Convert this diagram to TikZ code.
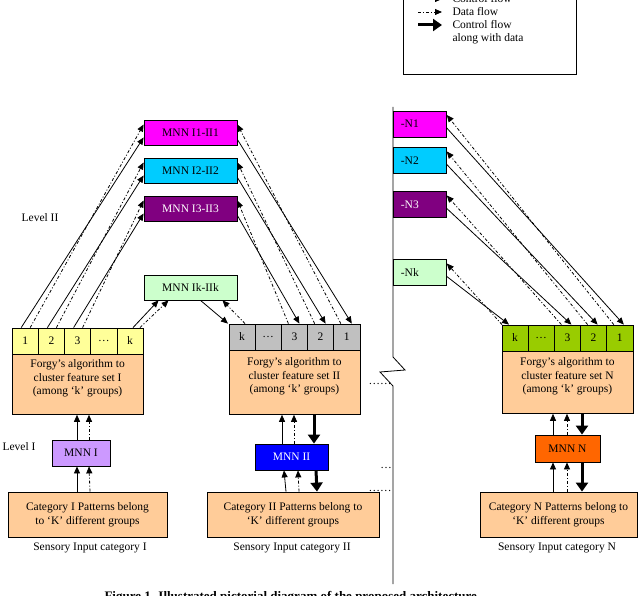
\documentclass[tikz,border=0pt]{standalone}
\usepackage{fontspec}
\setmainfont{Liberation Serif}
\usetikzlibrary{arrows.meta}
\definecolor{cyel}{HTML}{FFFF99}
\definecolor{corg}{HTML}{FFCC99}
\definecolor{cmag}{HTML}{FF00FF}
\definecolor{ccyan}{HTML}{00CCFF}
\definecolor{cpur}{HTML}{800080}
\definecolor{clgr}{HTML}{CCFFCC}
\definecolor{cgray}{HTML}{C0C0C0}
\definecolor{cblue}{HTML}{0000FF}
\definecolor{corn}{HTML}{FF6600}
\definecolor{cgrn}{HTML}{99CC00}
\definecolor{clav}{HTML}{CC99FF}
\begin{document}
\begin{tikzpicture}[x=1pt,y=-1pt,font=\fontsize{11.5}{13.5}\selectfont,
 box/.style={draw,thick,inner sep=0pt,align=center},
 cell/.style={box,minimum width=26.2pt,minimum height=26pt},
 nbox/.style={box,minimum width=53pt,minimum height=26pt,anchor=west,text width=38pt,align=left},
 ctl/.style={-{Triangle[length=7pt,width=6pt]},thick},
 dat/.style={-{Triangle[length=7pt,width=6pt]},thick,dash pattern=on 3pt off 2pt on 1pt off 2pt},
 big/.style={-{Triangle[length=9pt,width=12pt]},line width=3pt}]
\useasboundingbox (0,0) rectangle (640,596);
% legend
\node[draw,thick,minimum width=173pt,minimum height=80pt,anchor=south west] (leg) at (403,75) {};
\coordinate (la1) at (418,-1); \coordinate (lb1) at (442,-1);
\coordinate (la2) at (418,12); \coordinate (lb2) at (442,12);
\coordinate (la3) at (418,25); \coordinate (lb3) at (442,25);
\draw[ctl] (la1) -- (lb1);
\draw[dat] (la2) -- (lb2);
\draw[big] (la3) -- (lb3);
\node[anchor=west] (t1) at (449,-1) {Control flow};
\node[anchor=west] (t2) at (449,12) {Data flow};
\node[anchor=west,align=left] (t3) at (449,32) {Control flow\\along with data};
% level II MNNs
\node[box,fill=cmag,minimum width=93pt,minimum height=25pt] (I1) at (190.5,132.5) {MNN I1-II1};
\node[box,fill=ccyan,minimum width=93pt,minimum height=25pt] (I2) at (190.5,170.5) {MNN I2-II2};
\node[box,fill=cpur,text=white,minimum width=93pt,minimum height=25pt] (I3) at (190.5,208.5) {MNN I3-II3};
\node[box,fill=clgr,minimum width=93pt,minimum height=25pt] (Ik) at (190.5,287.5) {MNN Ik-IIk};
\node (lv2) at (40,218) {Level II};
\node (lv1) at (19,447) {Level I};
% left column
\node[cell,fill=cyel] (L1) at (25.2,341) {1};
\node[cell,fill=cyel] (L2) at (51.4,341) {2};
\node[cell,fill=cyel] (L3) at (77.6,341) {3};
\node[cell,fill=cyel] (L4) at (103.8,341) {\dots};
\node[cell,fill=cyel] (Lk) at (130,341) {k};
\node[box,fill=corg,minimum width=131pt,minimum height=60pt,anchor=north] (F1) at (77.6,354) {};
\node[anchor=north,align=center] (F1t) at (77.6,356) {Forgy’s algorithm to\\cluster feature set I\\(among ‘k’ groups)};
\node[box,fill=clav,minimum width=58pt,minimum height=26pt] (M1) at (81,453) {MNN I};
\node[box,fill=corg,minimum width=159pt,minimum height=45pt] (C1) at (87.5,514.5) {Category I Patterns belong\\to ‘K’ different groups};
\node (S1) at (90,548) {Sensory Input category I};
% middle column
\node[cell,fill=cgray] (Rk) at (242,337) {k};
\node[cell,fill=cgray] (R4) at (268.2,337) {\dots};
\node[cell,fill=cgray] (R3) at (294.4,337) {3};
\node[cell,fill=cgray] (R2) at (320.6,337) {2};
\node[cell,fill=cgray] (R1) at (346.8,337) {1};
\node[box,fill=corg,minimum width=131pt,minimum height=64pt,anchor=north] (F2) at (294.4,350) {};
\node[anchor=north,align=center] (F2t) at (294.4,354) {Forgy’s algorithm to\\cluster feature set II\\(among ‘k’ groups)};
\node[box,fill=cblue,text=white,minimum width=73pt,minimum height=26pt] (M2) at (291.5,457) {MNN II};
\node[box,fill=corg,minimum width=172pt,minimum height=45pt] (C2) at (293,514.5) {Category II Patterns belong to\\‘K’ different groups};
\node (S2) at (292,548) {Sensory Input category II};
% right column
\draw[thick] (393,107) -- (393,357) -- (405,370) -- (380,372) -- (393,386) -- (393,584);
\node[nbox,fill=cmag] (N1) at (393,124) {-N1};
\node[nbox,fill=ccyan] (N2) at (393,160.5) {-N2};
\node[nbox,fill=cpur,text=white] (N3) at (393,204.5) {-N3};
\node[nbox,fill=clgr] (Nk) at (393,272.5) {-Nk};
\node[cell,fill=cgrn] (Qk) at (515,338) {k};
\node[cell,fill=cgrn] (Q4) at (541.2,338) {\dots};
\node[cell,fill=cgrn] (Q3) at (567.4,338) {3};
\node[cell,fill=cgrn] (Q2) at (593.6,338) {2};
\node[cell,fill=cgrn] (Q1) at (619.8,338) {1};
\node[box,fill=corg,minimum width=131pt,minimum height=62pt,anchor=north] (F3) at (567.4,351) {};
\node[anchor=north,align=center] (F3t) at (567.4,354) {Forgy’s algorithm to\\cluster feature set N\\(among ‘k’ groups)};
\node[box,fill=corn,minimum width=65pt,minimum height=27pt] (M3) at (567.5,448.5) {MNN N};
\node[box,fill=corg,minimum width=157pt,minimum height=45pt] (C3) at (558.5,514.5) {Category N Patterns belong to\\‘K’ different groups};
\node (S3) at (557,548) {Sensory Input category N};
% leaders
\node (d1) at (380,384) {\dots\dots};
\node (d2) at (386,468) {\dots};
\node (d3) at (380,491) {\dots\dots};
% caption
\node[font=\bfseries\fontsize{13}{14}\selectfont,anchor=west] (cap) at (101,597) {Figure 1. Illustrated pictorial diagram of the proposed architecture};
% left cells -> level II
\draw[ctl] ([xshift=-4pt]L1.north) -- ([yshift=-5pt]I1.west);
\draw[dat] ([xshift=5pt]L1.north) -- ([yshift=8pt]I1.west);
\draw[ctl] ([xshift=-4pt]L2.north) -- ([yshift=-5pt]I2.west);
\draw[dat] ([xshift=5pt]L2.north) -- ([yshift=8pt]I2.west);
\draw[ctl] ([xshift=-4pt]L3.north) -- ([yshift=-5pt]I3.west);
\draw[dat] ([xshift=5pt]L3.north) -- ([yshift=8pt]I3.west);
\draw[ctl] ([xshift=3pt]Lk.north) -- ([xshift=-32pt]Ik.south);
\draw[dat] ([xshift=10pt]Lk.north) -- ([xshift=-22pt]Ik.south);
% level II -> right cells
\draw[ctl] ([yshift=-7pt]I1.east) -- ([xshift=5pt]R1.north);
\draw[dat] ([xshift=-6pt]R1.north) -- ([yshift=8pt]I1.east);
\draw[ctl] ([yshift=-7pt]I2.east) -- ([xshift=5pt]R2.north);
\draw[dat] ([xshift=-6pt]R2.north) -- ([yshift=8pt]I2.east);
\draw[ctl] ([yshift=-7pt]I3.east) -- ([xshift=5pt]R3.north);
\draw[dat] ([xshift=-6pt]R3.north) -- ([yshift=8pt]I3.east);
\draw[ctl] ([xshift=10pt]Ik.south) -- ([xshift=-14pt]Rk.north);
\draw[dat] ([xshift=3pt]Rk.north) -- ([xshift=32pt]Ik.south);
% N boxes -> N cells
\draw[ctl] ([yshift=-4pt]N1.east) -- ([xshift=4pt]Q1.north);
\draw[dat] ([xshift=-6pt]Q1.north) -- ([yshift=9pt]N1.east);
\draw[ctl] ([yshift=-4pt]N2.east) -- ([xshift=4pt]Q2.north);
\draw[dat] ([xshift=-6pt]Q2.north) -- ([yshift=9pt]N2.east);
\draw[ctl] ([yshift=-4pt]N3.east) -- ([xshift=4pt]Q3.north);
\draw[dat] ([xshift=-6pt]Q3.north) -- ([yshift=9pt]N3.east);
\draw[ctl] ([yshift=-4pt]Nk.east) -- ([xshift=-6pt]Qk.north);
\draw[dat] ([xshift=-13pt]Qk.north) -- ([yshift=9pt]Nk.east);
% level I
\draw[ctl] ([xshift=-4pt]M1.north) -- ([xshift=-0.6pt]F1.south);
\draw[dat] ([xshift=8pt]M1.north) -- ([xshift=11.4pt]F1.south);
\draw[ctl] ([xshift=-10.5pt]C1.north) -- ([xshift=-4pt]M1.south);
\draw[dat] ([xshift=2.5pt]C1.north) -- ([xshift=8pt]M1.south);
\draw[ctl] ([xshift=-9.5pt]M2.north) -- ([xshift=-12.4pt]F2.south);
\draw[dat] ([xshift=2.5pt]M2.north) -- ([xshift=-0.4pt]F2.south);
\draw[big] ([xshift=19.6pt]F2.south) -- ([xshift=22.5pt]M2.north);
\draw[ctl] ([xshift=-7pt]C2.north) -- ([xshift=-7.5pt]M2.south);
\draw[dat] ([xshift=6pt]C2.north) -- ([xshift=6.5pt]M2.south);
\draw[big] ([xshift=24.5pt]M2.south) -- ([xshift=24pt]C2.north);
\draw[ctl] ([xshift=-14.5pt]M3.north) -- ([xshift=-14.4pt]F3.south);
\draw[dat] ([xshift=-0.5pt]M3.north) -- ([xshift=-0.4pt]F3.south);
\draw[big] ([xshift=14.6pt]F3.south) -- ([xshift=14.5pt]M3.north);
\draw[ctl] ([xshift=-5.5pt]C3.north) -- ([xshift=-14.5pt]M3.south);
\draw[dat] ([xshift=8.5pt]C3.north) -- ([xshift=-0.5pt]M3.south);
\draw[big] ([xshift=14.5pt]M3.south) -- ([xshift=23.5pt]C3.north);
\end{tikzpicture}
\end{document}
